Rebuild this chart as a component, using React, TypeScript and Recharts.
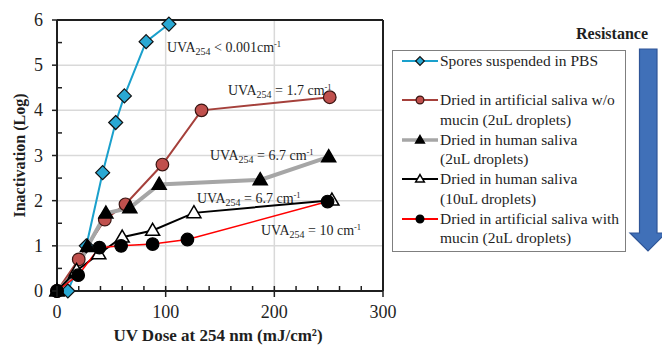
import { LineChart, Line, XAxis, YAxis, CartesianGrid, Legend, ReferenceLine } from "recharts";

// UV dose (mJ/cm2) and log inactivation for each suspension
const pbsDose = [10, 27, 42, 54, 62, 82, 103];
const pbsLog = [0, 1.0, 2.62, 3.73, 4.32, 5.52, 5.91];

const noMucinDose = [0, 20, 44, 63, 97, 133, 251];
const noMucinLog = [0, 0.7, 1.58, 1.92, 2.8, 4.0, 4.29];

const saliva2Dose = [0, 17, 28, 45, 67, 94, 187, 250];
const saliva2Log = [0, 0.4, 0.98, 1.72, 1.84, 2.36, 2.46, 2.97];

const saliva10Dose = [0, 18, 38.5, 60, 88, 126, 253];
const saliva10Log = [0, 0.45, 0.82, 1.19, 1.34, 1.73, 2.01];

const mucinDose = [0, 19.5, 39, 59, 88, 120, 249];
const mucinLog = [0, 0.35, 0.96, 1.0, 1.04, 1.14, 1.98];

const xTicks = [0, 20, 40, 60, 80, 100, 120, 140, 160, 180, 200, 220, 240, 260, 280, 300];
const yTicks = [0, 0.5, 1, 1.5, 2, 2.5, 3, 3.5, 4, 4.5, 5, 5.5, 6];

const FONT = "'Liberation Serif', 'Times New Roman', serif";
const INK = "#1f1f1f";

const toRows = (dose: number[], log: number[]) => dose.map((d, i) => ({ dose: d, log: log[i] }));

type Marker = "diamond" | "circle" | "triangle";

const series = [
  { key: "pbs", name: "Spores suspended in PBS", rows: toRows(pbsDose, pbsLog), stroke: "#1aa0cc", width: 2, marker: "diamond" as Marker, fill: "#29a8d3", edge: "#111" },
  { key: "noMucin", name: "Dried in artificial saliva w/o|mucin (2uL droplets)", rows: toRows(noMucinDose, noMucinLog), stroke: "#a5403b", width: 2, marker: "circle" as Marker, fill: "#c0504d", edge: "#3a1512" },
  { key: "saliva2", name: "Dried in human saliva|(2uL droplets)", rows: toRows(saliva2Dose, saliva2Log), stroke: "#a6a6a6", width: 4, marker: "triangle" as Marker, fill: "#000", edge: "#000" },
  { key: "saliva10", name: "Dried in human saliva|(10uL droplets)", rows: toRows(saliva10Dose, saliva10Log), stroke: "#000", width: 2, marker: "triangle" as Marker, fill: "#fff", edge: "#000" },
  { key: "mucin", name: "Dried in artificial saliva with|mucin (2uL droplets)", rows: toRows(mucinDose, mucinLog), stroke: "#ff0000", width: 1.5, marker: "circle" as Marker, fill: "#000", edge: "#000" },
];

function drawMarker(kind: Marker, cx: number, cy: number, fill: string, edge: string, s = 1) {
  if (kind === "diamond") {
    const r = 7 * s;
    return <polygon points={`${cx},${cy - r} ${cx + r},${cy} ${cx},${cy + r} ${cx - r},${cy}`} fill={fill} stroke={edge} strokeWidth={1.2} />;
  }
  if (kind === "circle") {
    return <circle cx={cx} cy={cy} r={6.3 * s} fill={fill} stroke={edge} strokeWidth={1.2} />;
  }
  const h = 12 * s;
  const w = 7 * s;
  return <polygon points={`${cx},${cy - h * 0.6} ${cx + w},${cy + h * 0.4} ${cx - w},${cy + h * 0.4}`} fill={fill} stroke={edge} strokeWidth={1.5} />;
}

const XTick = ({ x, y, payload }: any) => {
  const v = payload.value;
  const major = v % 100 === 0;
  return (
    <g>
      <line x1={x} x2={x} y1={y - 5} y2={major ? y + 6 : y} stroke={INK} strokeWidth={1.5} />
      {major && (
        <text x={x} y={y + 27} textAnchor="middle" fontFamily={FONT} fontSize={18} fill={INK}>
          {v}
        </text>
      )}
    </g>
  );
};

const YTick = ({ x, y, payload }: any) => {
  const v = payload.value;
  const major = Number.isInteger(v);
  return (
    <g>
      <line x1={major ? x - 5 : x} x2={major ? x : x + 5} y1={y} y2={y} stroke={INK} strokeWidth={1.5} />
      {major && (
        <text x={x - 14} y={y + 6} textAnchor="end" fontFamily={FONT} fontSize={18} fill={INK}>
          {v}
        </text>
      )}
    </g>
  );
};

const YTitle = ({ viewBox }: any) => {
  const cx = viewBox.x + 19;
  const cy = viewBox.y + viewBox.height / 2;
  return (
    <text x={cx} y={cy} transform={`rotate(-90 ${cx} ${cy})`} textAnchor="middle" dominantBaseline="central" fontFamily={FONT} fontWeight="bold" fontSize={16} fill={INK}>
      Inactivation (Log)
    </text>
  );
};

const XTitle = ({ viewBox }: any) => {
  const cx = viewBox.x + viewBox.width / 2 - 2;
  return (
    <text x={cx} y={viewBox.y + 50} textAnchor="middle" fontFamily={FONT} fontWeight="bold" fontSize={17} fill={INK}>
      UV Dose at 254 nm (mJ/cm²)
    </text>
  );
};

const LegendBox = () => (
  <div
    style={{
      border: "1px solid #7f7f7f",
      background: "#fff",
      padding: "0 0 3px 8px",
      width: 234,
      height: 202,
      boxSizing: "border-box",
      fontFamily: FONT,
      fontSize: 15.5,
      lineHeight: "19.7px",
      color: INK,
    }}
  >
    {series.map((s) => {
      const lines = s.name.split("|");
      return (
        <div key={s.key} style={{ display: "flex", alignItems: "flex-start", height: 39.4 }}>
          <svg width={38} height={20} style={{ flex: "none" }}>
            <line x1={1} x2={37} y1={10} y2={10} stroke={s.stroke} strokeWidth={s.width === 4 ? 3.5 : 2} />
            {drawMarker(s.marker, 19, 10, s.fill, s.edge, 0.62)}
          </svg>
          <div style={{ marginLeft: 1, whiteSpace: "nowrap" }}>
            {lines.map((l) => (
              <div key={l}>{l}</div>
            ))}
          </div>
        </div>
      );
    })}
  </div>
);

const Uva = ({ x, y, rest, sup = "-1" }: { x: number; y: number; rest: string; sup?: string }) => (
  <text x={x} y={y} fontFamily={FONT} fontSize={14} fill={INK}>
    UVA
    <tspan fontSize={10} dy={3}>254</tspan>
    <tspan dy={-3}>{rest}</tspan>
    <tspan fontSize={8.5} dy={-5}>{sup}</tspan>
  </text>
);

export default function App() {
  return (
    <div style={{ position: "absolute", left: 0, top: 0, width: 662, height: 346, background: "#fff" }}>
      <LineChart width={662} height={346} margin={{ top: 20, right: 279, bottom: 0, left: 0 }}>
        <CartesianGrid horizontalValues={[1, 2, 3, 4, 5]} verticalValues={[100, 200]} stroke="#d9d9d9" strokeWidth={1.5} />
        <XAxis
          type="number"
          dataKey="dose"
          domain={[0, 300]}
          ticks={xTicks}
          interval={0}
          height={55}
          tickSize={0}
          tickMargin={0}
          tickLine={false}
          tick={<XTick />}
          axisLine={{ stroke: INK, strokeWidth: 2 }}
          allowDuplicatedCategory={false}
          label={<XTitle />}
        />
        <YAxis
          type="number"
          dataKey="log"
          domain={[0, 6]}
          ticks={yTicks}
          interval={0}
          width={57}
          tickSize={0}
          tickMargin={0}
          tickLine={false}
          tick={<YTick />}
          axisLine={{ stroke: INK, strokeWidth: 2 }}
          label={<YTitle />}
        />
        <ReferenceLine y={6} stroke={INK} strokeWidth={2} />
        <ReferenceLine x={300} stroke={INK} strokeWidth={2} />
        {series.map((s) => (
          <Line
            key={s.key}
            data={s.rows}
            dataKey="log"
            name={s.name}
            type="linear"
            stroke={s.stroke}
            strokeWidth={s.width}
            isAnimationActive={false}
            dot={(p: any) => <g key={`${s.key}-${p.index}`}>{drawMarker(s.marker, p.cx, p.cy, s.fill, s.edge)}</g>}
            activeDot={false}
          />
        ))}
        <Legend
          layout="vertical"
          align="center"
          verticalAlign="middle"
          content={<LegendBox />}
          wrapperStyle={{ left: 392, top: 50, width: 234, height: 202 }}
        />
      </LineChart>
      <svg width={662} height={346} style={{ position: "absolute", left: 0, top: 0, pointerEvents: "none" }}>
        <Uva x={167} y={52} rest=" < 0.001cm" />
        <Uva x={228} y={95} rest=" = 1.7 cm" />
        <Uva x={210} y={160} rest=" = 6.7 cm" />
        <Uva x={197} y={203} rest=" = 6.7 cm" />
        <Uva x={261} y={235} rest=" = 10 cm" />
        <text x={612} y={39} textAnchor="middle" fontFamily={FONT} fontWeight="bold" fontSize={16} fill={INK}>
          Resistance
        </text>
        <polygon points="639.5,49 657,49 657,233 666,233 648,251 630,233 639.5,233" fill="#4070b8" stroke="#2f5597" strokeWidth={1.2} />
      </svg>
    </div>
  );
}
